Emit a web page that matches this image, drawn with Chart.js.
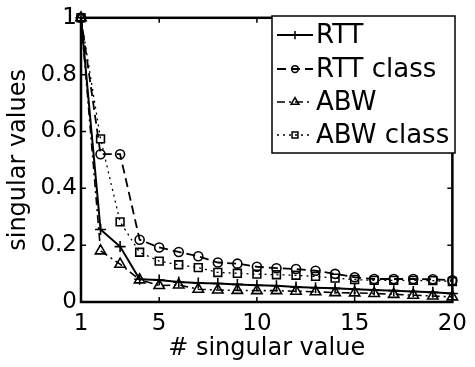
<!DOCTYPE html>
<html>
<head>
<meta charset="utf-8">
<script src="https://cdn.jsdelivr.net/npm/chart.js@4"></script>
<style>
  html, body { margin: 0; padding: 0; background: #fff; }
  #wrap { width: 475px; height: 367px; }
</style>
</head>
<body>
<div id="wrap"><canvas id="svChart" width="475" height="367"></canvas></div>
<script>
// ==============================
// Data
// ==============================
const singularIndex = [1, 2, 3, 4, 5, 6, 7, 8, 9, 10, 11, 12, 13, 14, 15, 16, 17, 18, 19, 20];
const rtt      = [1, 0.255, 0.195, 0.08, 0.077, 0.07, 0.067, 0.065, 0.062, 0.059, 0.057, 0.053, 0.05, 0.048, 0.045, 0.042, 0.04, 0.037, 0.034, 0.03];
const rttClass = [1, 0.52, 0.52, 0.219, 0.192, 0.176, 0.161, 0.139, 0.135, 0.124, 0.119, 0.116, 0.11, 0.099, 0.087, 0.081, 0.081, 0.081, 0.08, 0.076];
const abw      = [1, 0.18, 0.133, 0.078, 0.058, 0.06, 0.045, 0.042, 0.041, 0.04, 0.04, 0.038, 0.036, 0.033, 0.032, 0.03, 0.027, 0.024, 0.021, 0.018];
const abwClass = [1, 0.574, 0.282, 0.175, 0.144, 0.131, 0.121, 0.104, 0.101, 0.098, 0.096, 0.094, 0.09, 0.084, 0.079, 0.076, 0.076, 0.076, 0.075, 0.072];

const xTicks = [1, 5, 10, 15, 20];
const yTicks = [0, 0.2, 0.4, 0.6, 0.8, 1];

const FONT = "'DejaVu Sans', sans-serif";

// helper: pair indices with values
function toPoints(values) {
  return singularIndex.map((x, i) => ({ x: x, y: values[i] }));
}

function makeSeries(label, values, style, radius, dash, width) {
  return {
    label: label,
    data: toPoints(values),
    borderColor: "#000",
    borderWidth: width,
    borderDash: dash,
    pointStyle: style,
    pointRadius: radius,
    pointBorderColor: "#000",
    pointBackgroundColor: "rgba(0,0,0,0)",
    pointBorderWidth: 1.6,
    tension: 0,
    fill: false,
    clip: false,
  };
}

// ==============================
// Frame box + inward ticks + boxed legend
// ==============================
const framePlugin = {
  id: "frame",
  afterDatasetsDraw(chart) {
    const ctx = chart.ctx;
    const a = chart.chartArea;
    const xs = chart.scales.x;
    const ys = chart.scales.y;
    ctx.save();
    ctx.strokeStyle = "#000";
    ctx.setLineDash([]);
    // ticks
    ctx.lineWidth = 1.5;
    const tl = 5;
    ctx.beginPath();
    xTicks.forEach((v) => {
      const px = xs.getPixelForValue(v);
      ctx.moveTo(px, a.bottom); ctx.lineTo(px, a.bottom - tl);
      ctx.moveTo(px, a.top); ctx.lineTo(px, a.top + tl);
    });
    yTicks.forEach((v) => {
      const py = ys.getPixelForValue(v);
      ctx.moveTo(a.left, py); ctx.lineTo(a.left + tl, py);
      ctx.moveTo(a.right, py); ctx.lineTo(a.right - tl, py);
    });
    ctx.stroke();
    // box
    ctx.lineWidth = 2.5;
    ctx.strokeRect(a.left, a.top, a.right - a.left, a.bottom - a.top);

    // legend
    const lx = 272, ly = 16, lw = 183, lh = 137;
    ctx.fillStyle = "#fff";
    ctx.fillRect(lx, ly, lw, lh);
    ctx.lineWidth = 1.5;
    ctx.strokeRect(lx, ly, lw, lh);
    const rowY = [35, 69, 102, 135];
    ctx.font = "26px " + FONT;
    ctx.textBaseline = "middle";
    chart.data.datasets.forEach((ds, i) => {
      const y = rowY[i];
      ctx.strokeStyle = "#000";
      ctx.lineWidth = ds.borderWidth;
      ctx.setLineDash(ds.borderDash || []);
      ctx.beginPath();
      ctx.moveTo(277, y); ctx.lineTo(313, y);
      ctx.stroke();
      ctx.setLineDash([]);
      ctx.lineWidth = 1.5;
      ctx.fillStyle = "rgba(0,0,0,0)";
      if (Chart.helpers && Chart.helpers.drawPoint) {
        Chart.helpers.drawPoint(ctx, {
          pointStyle: ds.pointStyle,
          radius: ds.pointRadius * 0.75,
          rotation: 0,
          borderWidth: 1.5,
        }, 295, y);
      }
      ctx.fillStyle = "#000";
      ctx.fillText(ds.label, 316, y + 1);
    });
    ctx.restore();
  },
};

const ctx = document.getElementById("svChart").getContext("2d");
new Chart(ctx, {
  type: "line",
  data: {
    datasets: [
      makeSeries("RTT", rtt, "cross", 5.5, [], 2),
      makeSeries("RTT class", rttClass, "circle", 4.5, [9, 5], 1.8),
      makeSeries("ABW", abw, "triangle", 6, [8, 4, 2, 4], 1.6),
      makeSeries("ABW class", abwClass, "rect", 5.5, [2, 4], 1.3),
    ],
  },
  options: {
    responsive: false,
    animation: false,
    layout: { padding: { top: 11, right: 16, left: 0, bottom: 0 } },
    plugins: {
      legend: { display: false },
      tooltip: { enabled: false },
    },
    scales: {
      x: {
        type: "linear",
        min: 1,
        max: 20,
        afterBuildTicks: (s) => { s.ticks = xTicks.map((v) => ({ value: v })); },
        afterFit: (s) => { s.height = 65; },
        grid: { display: false, drawTicks: false },
        border: { display: false },
        ticks: {
          color: "#000",
          padding: 8,
          maxRotation: 0,
          autoSkip: false,
          font: { family: FONT, size: 23 },
        },
        title: {
          display: true,
          text: "# singular value",
          color: "#000",
          font: { family: FONT, size: 24 },
          padding: { top: 0, bottom: 4 },
        },
      },
      y: {
        type: "linear",
        min: 0,
        max: 1,
        afterBuildTicks: (s) => { s.ticks = yTicks.map((v) => ({ value: v })); },
        afterFit: (s) => { s.width = 81; },
        grid: { display: false, drawTicks: false },
        border: { display: false },
        ticks: {
          color: "#000",
          padding: 4,
          autoSkip: false,
          font: { family: FONT, size: 23 },
          callback: (v) => String(Math.round(v * 10) / 10),
        },
        title: {
          display: true,
          text: "singular values",
          color: "#000",
          font: { family: FONT, size: 24 },
          padding: { top: 4, bottom: 0 },
        },
      },
    },
  },
  plugins: [framePlugin],
});
</script>
</body>
</html>
